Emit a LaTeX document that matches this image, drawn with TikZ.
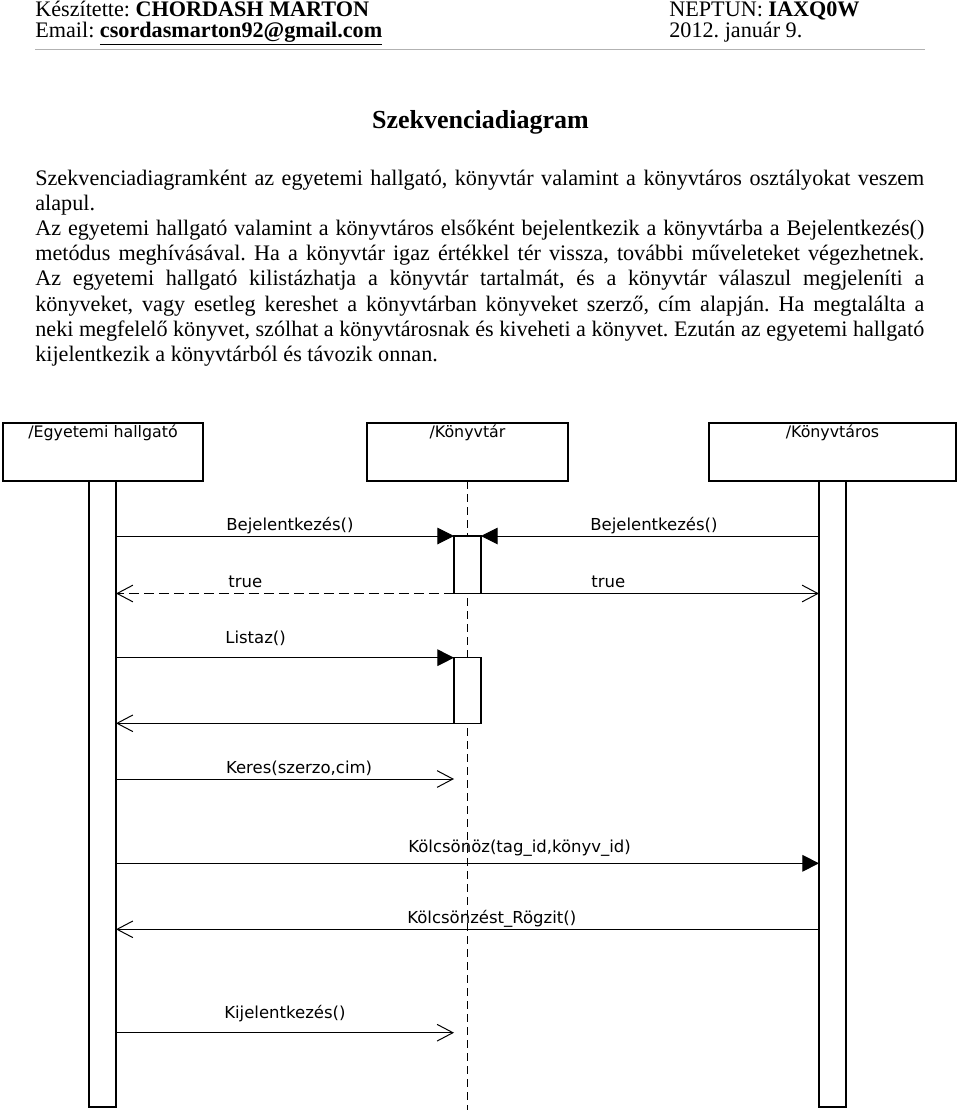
\documentclass[tikz,border=0pt]{standalone}
\usepackage{fontspec}
\setmainfont{Liberation Serif}
\newfontfamily\umlfont{DejaVu Sans}
\usetikzlibrary{arrows.meta}

\begin{document}
\frenchspacing
\begin{tikzpicture}[x=0.6pt, y=-0.6pt, font=\fontsize{13.3}{16}\selectfont,
  txt/.style={anchor=base west, inner sep=0pt},
  obj/.style={draw, line width=0.9pt, minimum height=58*0.6pt, inner sep=0pt, outer sep=0pt},
  objlbl/.style={font=\umlfont\fontsize{9.5}{11}\selectfont, anchor=base, inner sep=0pt},
  actbar/.style={draw, line width=0.9pt, fill=white, minimum width=27*0.6pt, inner sep=0pt, outer sep=0pt},
  msg/.style={font=\umlfont\fontsize{9.9}{12}\selectfont, anchor=base west, inner sep=0pt},
  call/.style={line width=0.6pt, -{Triangle[length=10pt, width=10pt]}},
  ret/.style={line width=0.6pt, -{Straight Barb[length=9.5pt, width=10pt]}},
  lifeline/.style={line width=0.6pt, dash pattern=on 4.8pt off 3pt}]
\def\tw{533.4pt}
\useasboundingbox (0,0) rectangle (960,1110);

\node[txt] (author) at (35,16) {Készítette: \textbf{CHORDASH MARTON}};
\node[txt] (neptun) at (669,16) {NEPTUN: \textbf{IAXQ0W}};
\node[txt] (email) at (35,37) {Email: \textbf{\underline{csordasmarton92@gmail.com}}};
\node[txt] (date) at (669,37) {2012. január 9.};
\coordinate (rl) at (35,49.5);
\coordinate (rr) at (925,49.5);
\draw[black!30, line width=0.8pt] (rl) -- (rr);

\node[font=\fontsize{15.6}{18}\selectfont\bfseries, anchor=base, inner sep=0pt] (title) at (480.5,128) {Szekvenciadiagram};

\foreach \n/\al/\ln in {
    0/s/{Szekvenciadiagramként az egyetemi hallgató, könyvtár valamint a könyvtáros osztályokat veszem},
    1/l/{alapul.},
    2/s/{Az egyetemi hallgató valamint a könyvtáros elsőként bejelentkezik a könyvtárba a Bejelentkezés()},
    3/s/{metódus meghívásával. Ha a könyvtár igaz értékkel tér vissza, további műveleteket végezhetnek.},
    4/s/{Az egyetemi hallgató kilistázhatja a könyvtár tartalmát, és a könyvtár válaszul megjeleníti a},
    5/s/{könyveket, vagy esetleg kereshet a könyvtárban könyveket szerző, cím alapján. Ha megtalálta a},
    6/s/{neki megfelelő könyvet, szólhat a könyvtárosnak és kiveheti a könyvet. Ezután az egyetemi hallgató},
    7/l/{kijelentkezik a könyvtárból és távozik onnan.}
}{
    \node[txt] (p\n) at (35,{185+\n*25.2}) {\makebox[\tw][\al]{\ln}};
}

\node[obj, minimum width=200*0.6pt] (eh) at (103,452) {};
\node[obj, minimum width=201*0.6pt] (kt) at (467.5,452) {};
\node[obj, minimum width=247*0.6pt] (ks) at (832.5,452) {};
\node[objlbl] (ehl) at ([yshift=-8.4pt]eh.north) {/Egyetemi hallgató};
\node[objlbl] (ktl) at ([yshift=-8.4pt]kt.north) {/Könyvtár};
\node[objlbl] (ksl) at ([yshift=-8.4pt]ks.north) {/Könyvtáros};

\coordinate (ktend) at (467.5,1110);
\draw[lifeline] (kt.south) -- (ktend);

\node[actbar, minimum height=626*0.6pt] (ehb) at (102.5,794) {};
\node[actbar, minimum height=626*0.6pt] (ksb) at (832.5,794) {};
\node[actbar, minimum height=57.5*0.6pt] (kb1) at (467.5,564.75) {};
\node[actbar, minimum height=65.6*0.6pt] (kb2) at (467.5,690.5) {};

\coordinate (m1) at (0,536);
\coordinate (m2) at (0,593.5);
\coordinate (m3) at (0,657.7);
\coordinate (m4) at (0,723.3);
\coordinate (m5) at (0,779);
\coordinate (m6) at (0,863.3);
\coordinate (m7) at (0,929.3);
\coordinate (m8) at (0,1032.7);

\draw[call] (ehb.east |- m1) -- (kb1.west |- m1);
\draw[call] (ksb.west |- m1) -- (kb1.east |- m1);
\draw[ret, dash pattern=on 6pt off 3pt] (kb1.west |- m2) -- (ehb.east |- m2);
\draw[ret] (kb1.east |- m2) -- (ksb.west |- m2);
\draw[call] (ehb.east |- m3) -- (kb2.west |- m3);
\draw[ret] (kb2.west |- m4) -- (ehb.east |- m4);
\draw[ret] (ehb.east |- m5) -- (kb1.west |- m5);
\draw[call] (ehb.east |- m6) -- (ksb.west |- m6);
\draw[ret] (ksb.west |- m7) -- (ehb.east |- m7);
\draw[ret] (ehb.east |- m8) -- (kb1.west |- m8);

\node[msg] (l1) at (226,530) {Bejelentkezés()};
\node[msg] (l2) at (590,530) {Bejelentkezés()};
\node[msg] (l3) at (228,587) {true};
\node[msg] (l4) at (591,587) {true};
\node[msg] (l5) at (225,643) {Listaz()};
\node[msg] (l6) at (225.7,773) {Keres(szerzo,cim)};
\node[msg] (l7) at (408,852) {Kölcsönöz(tag\_id,könyv\_id)};
\node[msg] (l8) at (407,923) {Kölcsönzést\_Rögzit()};
\node[msg] (l9) at (224,1018) {Kijelentkezés()};
\end{tikzpicture}
\end{document}
